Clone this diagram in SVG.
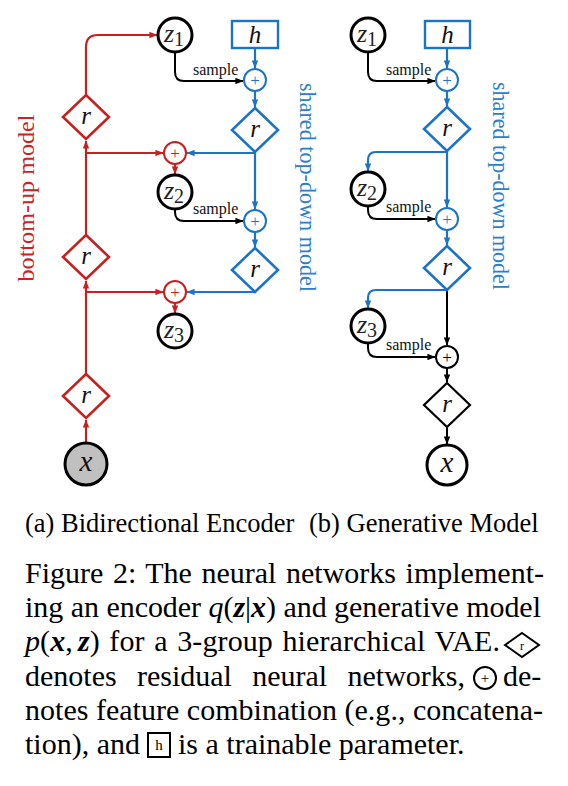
<svg xmlns="http://www.w3.org/2000/svg" width="568" height="786" viewBox="0 0 568 786" font-family="Liberation Serif, Times New Roman, serif">
<defs>
<style>
.red{stroke:#c8201e;fill:none;stroke-width:2.2}
.blue{stroke:#1b74c5;fill:none;stroke-width:2.2}
.blk{stroke:#000;fill:none;stroke-width:2}
.zc{fill:#fff;stroke:#000;stroke-width:3}
.dr{fill:#fff;stroke:#c8201e;stroke-width:2.6}
.db{fill:#fff;stroke:#1b74c5;stroke-width:2.6}
.dk{fill:#fff;stroke:#000;stroke-width:2.2}
.pr{fill:#fff;stroke:#c8201e;stroke-width:2}
.pb{fill:#fff;stroke:#1b74c5;stroke-width:2}
.pk{fill:#fff;stroke:#000;stroke-width:2}
.hb{fill:#fff;stroke:#1b74c5;stroke-width:2.4}
text{font-family:"Liberation Serif","Times New Roman",serif}
.m{font-style:italic;font-size:25px;text-anchor:middle;fill:#111}
.xm{font-style:italic;font-size:29px;text-anchor:middle;fill:#111}
.z{font-style:italic;font-size:26px;text-anchor:middle;fill:#222}
.smp{font-size:16px;fill:#111}
.pl{font-size:17px;text-anchor:middle}
.cap{font-size:30px;fill:#000}
.sub{font-size:26.5px;fill:#000}
.lab{font-size:23px}
</style>
<marker id="mr" viewBox="0 0 10 8" refX="9.5" refY="4" markerWidth="8" markerHeight="6.4" markerUnits="userSpaceOnUse" orient="auto"><path d="M0,0 L10,4 L0,8 z" fill="#c8201e"/></marker>
<marker id="mb" viewBox="0 0 10 8" refX="9.5" refY="4" markerWidth="8" markerHeight="6.4" markerUnits="userSpaceOnUse" orient="auto"><path d="M0,0 L10,4 L0,8 z" fill="#1b74c5"/></marker>
<marker id="mk" viewBox="0 0 10 8" refX="9.5" refY="4" markerWidth="8" markerHeight="6.4" markerUnits="userSpaceOnUse" orient="auto"><path d="M0,0 L10,4 L0,8 z" fill="#000"/></marker>
</defs>
<rect width="568" height="786" fill="#fff"/>

<g id="connectors">
<path class="red" d="M86,443 V420" marker-end="url(#mr)"/>
<path class="red" d="M86,374 V281" marker-end="url(#mr)"/>
<path class="red" d="M86,292 H163" marker-end="url(#mr)"/>
<path class="red" d="M86,235 V141" marker-end="url(#mr)"/>
<path class="red" d="M86,153 H163" marker-end="url(#mr)"/>
<path class="red" d="M86,95 V47 Q86,35 98,35 H157" marker-end="url(#mr)"/>
<path class="red" d="M175,164 V174" marker-end="url(#mr)"/>
<path class="red" d="M175,303 V313" marker-end="url(#mr)"/>
<path class="blue" d="M255,48 V68" marker-end="url(#mb)"/>
<path class="blue" d="M255,91 V107" marker-end="url(#mb)"/>
<path class="blue" d="M255,152 V209" marker-end="url(#mb)"/>
<path class="blue" d="M255,153 H187" marker-end="url(#mb)"/>
<path class="blue" d="M255,232 V247" marker-end="url(#mb)"/>
<path class="blue" d="M255,292 H187" marker-end="url(#mb)"/>
<path class="blk" d="M175,52 V72 Q175,81 184,81 H243" marker-end="url(#mk)"/>
<path class="blk" d="M175,209 V212 Q175,221 184,221 H243" marker-end="url(#mk)"/>
<path class="blue" d="M447,48 V68" marker-end="url(#mb)"/>
<path class="blue" d="M447,91 V106" marker-end="url(#mb)"/>
<path class="blue" d="M447,151 V207" marker-end="url(#mb)"/>
<path class="blue" d="M447,152 H376 Q368,152 368,160 V171" marker-end="url(#mb)"/>
<path class="blue" d="M447,230 V245" marker-end="url(#mb)"/>
<path class="blue" d="M447,290 H376 Q368,290 368,298 V308" marker-end="url(#mb)"/>
<path class="blk" d="M447,290 V345" marker-end="url(#mk)"/>
<path class="blk" d="M368,52 V72 Q368,81 377,81 H435" marker-end="url(#mk)"/>
<path class="blk" d="M368,206 V210 Q368,219 377,219 H435" marker-end="url(#mk)"/>
<path class="blk" d="M368,343 V348 Q368,357 377,357 H435" marker-end="url(#mk)"/>
<path class="blk" d="M447,368 V382" marker-end="url(#mk)"/>
<path class="blk" d="M447,427 V444" marker-end="url(#mk)"/>
<text class="smp" x="193" y="75">sample</text>
<text class="smp" x="193" y="214">sample</text>
<text class="smp" x="386" y="75">sample</text>
<text class="smp" x="386" y="212">sample</text>
<text class="smp" x="386" y="350">sample</text>
</g>

<!-- (a) Bidirectional Encoder -->
<g id="a-z1"><circle class="zc" cx="175" cy="35" r="17"/><text class="z" x="174" y="42">z<tspan style="font-style:normal;font-size:20px" dy="4">1</tspan></text></g>
<g id="a-h"><rect class="hb" x="232" y="21" width="46" height="27"/><text class="m" x="255" y="43">h</text></g>
<g id="a-plus1"><circle class="pb" cx="255" cy="80" r="11"/><text class="pl" x="255" y="85.5" fill="#1b74c5">+</text></g>
<g id="a-r1"><polygon class="dr" points="86,95 109,117 86,139 63,117"/><text class="m" x="86" y="124">r</text></g>
<g id="a-tr1"><polygon class="db" points="255,108 278,130 255,152 232,130"/><text class="m" x="255" y="137">r</text></g>
<g id="a-add1"><circle class="pr" cx="175" cy="153" r="11"/><text class="pl" x="175" y="158.5" fill="#c8201e">+</text></g>
<g id="a-z2"><circle class="zc" cx="175" cy="192" r="17"/><text class="z" x="174" y="199">z<tspan style="font-style:normal;font-size:20px" dy="4">2</tspan></text></g>
<g id="a-plus2"><circle class="pb" cx="255" cy="221" r="11"/><text class="pl" x="255" y="226.5" fill="#1b74c5">+</text></g>
<g id="a-r2"><polygon class="dr" points="86,235 109,257 86,279 63,257"/><text class="m" x="86" y="264">r</text></g>
<g id="a-tr2"><polygon class="db" points="255,248 278,270 255,292 232,270"/><text class="m" x="255" y="277">r</text></g>
<g id="a-add2"><circle class="pr" cx="175" cy="292" r="11"/><text class="pl" x="175" y="297.5" fill="#c8201e">+</text></g>
<g id="a-z3"><circle class="zc" cx="175" cy="331" r="17"/><text class="z" x="174" y="338">z<tspan style="font-style:normal;font-size:20px" dy="4">3</tspan></text></g>
<g id="a-r3"><polygon class="dr" points="86,374 109,396 86,418 63,396"/><text class="m" x="86" y="403">r</text></g>
<g id="a-x"><circle cx="86" cy="464" r="21" fill="#c0c0c0" stroke="#000" stroke-width="3"/><text class="xm" x="86" y="471">x</text></g>
<g id="a-label-bu"><text class="lab" transform="translate(34,198) rotate(-90)" text-anchor="middle" fill="#cc2222" textLength="167" lengthAdjust="spacingAndGlyphs">bottom-up model</text></g>
<g id="a-label-td"><text class="lab" transform="translate(300,187.5) rotate(90)" text-anchor="middle" fill="#2a80d0" textLength="209" lengthAdjust="spacingAndGlyphs">shared top-down model</text></g>

<!-- (b) Generative Model -->
<g id="b-z1"><circle class="zc" cx="368" cy="35" r="17"/><text class="z" x="367" y="42">z<tspan style="font-style:normal;font-size:20px" dy="4">1</tspan></text></g>
<g id="b-h"><rect class="hb" x="425" y="21" width="45" height="27"/><text class="m" x="447.5" y="43">h</text></g>
<g id="b-plus1"><circle class="pb" cx="447" cy="80" r="11"/><text class="pl" x="447" y="85.5" fill="#1b74c5">+</text></g>
<g id="b-r1"><polygon class="db" points="447,107 470,129 447,151 424,129"/><text class="m" x="447" y="136">r</text></g>
<g id="b-z2"><circle class="zc" cx="368" cy="189" r="17"/><text class="z" x="367" y="196">z<tspan style="font-style:normal;font-size:20px" dy="4">2</tspan></text></g>
<g id="b-plus2"><circle class="pb" cx="447" cy="219" r="11"/><text class="pl" x="447" y="224.5" fill="#1b74c5">+</text></g>
<g id="b-r2"><polygon class="db" points="447,246 470,268 447,290 424,268"/><text class="m" x="447" y="275">r</text></g>
<g id="b-z3"><circle class="zc" cx="368" cy="326" r="17"/><text class="z" x="367" y="333">z<tspan style="font-style:normal;font-size:20px" dy="4">3</tspan></text></g>
<g id="b-plus3"><circle class="pk" cx="447" cy="357" r="11"/><text class="pl" x="447" y="362.5" fill="#000">+</text></g>
<g id="b-r3"><polygon class="dk" points="447,383 470,405 447,427 424,405"/><text class="m" x="447" y="412">r</text></g>
<g id="b-x"><circle cx="447" cy="465" r="20" fill="#fff" stroke="#000" stroke-width="3"/><text class="xm" x="447" y="472">x</text></g>
<g id="b-label-td"><text class="lab" transform="translate(493,186) rotate(90)" text-anchor="middle" fill="#2a80d0" textLength="208" lengthAdjust="spacingAndGlyphs">shared top-down model</text></g>

<!-- caption -->
<g id="caption">
<text class="sub" x="25" y="532">(a) Bidirectional Encoder</text>
<text class="sub" x="309" y="532">(b) Generative Model</text>
<text class="cap" x="25" y="583" textLength="519" lengthAdjust="spacing" word-spacing="2">Figure 2: The neural networks implement-</text>
<text class="cap" x="25" y="617" textLength="516" lengthAdjust="spacing">ing an encoder <tspan font-style="italic">q</tspan>(<tspan font-style="italic" font-weight="bold">z</tspan>|<tspan font-style="italic" font-weight="bold">x</tspan>) and generative model</text>
<text class="cap" x="25" y="651" textLength="475" lengthAdjust="spacing" word-spacing="2"><tspan font-style="italic">p</tspan>(<tspan font-style="italic" font-weight="bold">x</tspan>,<tspan dx="5" font-style="italic" font-weight="bold">z</tspan>) for a 3-group hierarchical VAE.</text>
<polygon points="522,633 539,645 522,657 505,645" fill="#fff" stroke="#000" stroke-width="2"/>
<text x="522" y="649.5" font-size="12" text-anchor="middle">r</text>
<text class="cap" x="25" y="686" textLength="440" lengthAdjust="spacing" word-spacing="12.8">denotes residual neural networks,</text>
<circle cx="485" cy="678" r="11" fill="#fff" stroke="#000" stroke-width="2"/>
<text x="485" y="683" font-size="15" text-anchor="middle">+</text>
<text class="cap" x="503" y="686">de-</text>
<text class="cap" x="25" y="720" textLength="518" lengthAdjust="spacing">notes feature combination (e.g., concatena-</text>
<text class="cap" x="25" y="754">tion), and</text>
<rect x="148" y="733" width="22" height="24" fill="#fff" stroke="#000" stroke-width="2"/>
<text x="159" y="750" font-size="15" text-anchor="middle">h</text>
<text class="cap" x="178" y="754">is a trainable parameter.</text>
</g>
</svg>
